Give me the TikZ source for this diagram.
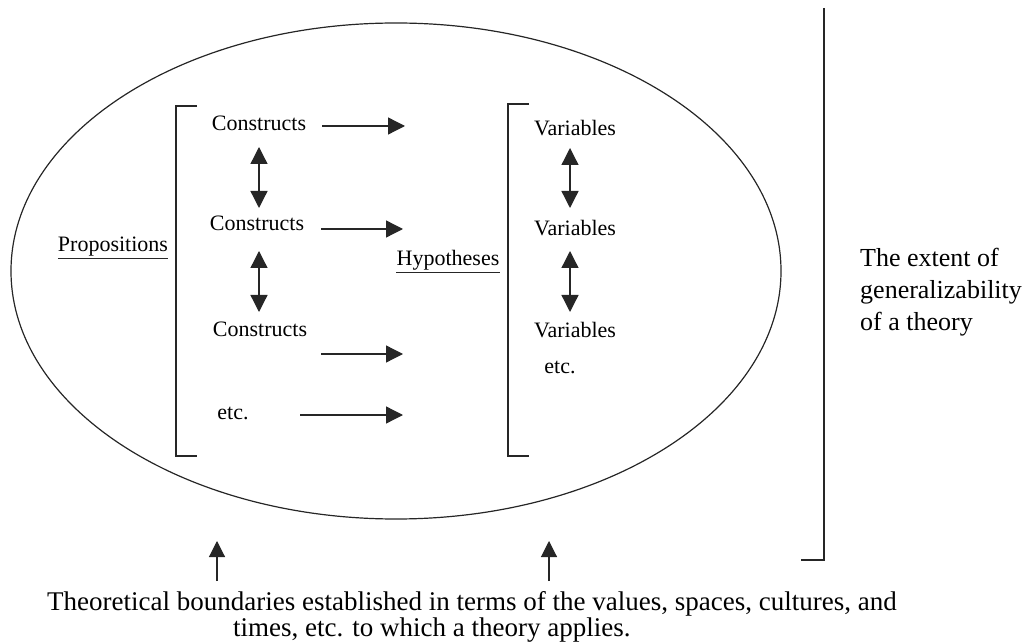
\documentclass[tikz,border=0pt]{standalone}
\usepackage{fontspec}
\setmainfont{Liberation Serif}
\usetikzlibrary{arrows.meta}
\begin{document}
\begin{tikzpicture}[x=1pt,y=-1pt,
  lbl/.style={inner sep=0pt, font=\fontsize{22}{26}\selectfont},
  big/.style={inner sep=0pt, font=\fontsize{26}{32}\selectfont, align=left},
  btxt/.style={inner sep=0pt, font=\fontsize{27}{27}\selectfont, anchor=base west},
  ln/.style={line width=1.2pt, draw=black!85},
  arr/.style={line width=1.3pt, draw=black!85, -{Triangle[length=17pt,width=17pt]}},
  dbl/.style={line width=1.3pt, draw=black!85, {Triangle[length=17pt,width=17pt]}-{Triangle[length=17pt,width=17pt]}},
  uarr/.style={line width=1.1pt, draw=black!85, -{Triangle[length=16pt,width=16pt]}}]
\useasboundingbox (0,0) rectangle (1031,644);
% ellipse
\draw[ln] (396,271) ellipse [x radius=385pt, y radius=248pt];
% brackets
\draw[ln] (197,106) -- (176,106) -- (176,456) -- (197,456);
\draw[ln] (529,104) -- (508,104) -- (508,456) -- (529,456);
% right bracket
\draw[ln] (824,8) -- (824,560) -- (801,560);
% left column
\node[lbl] (c1) at (259,123) {Constructs};
\node[lbl] (c2) at (257,223) {Constructs};
\node[lbl] (c3) at (260,329) {Constructs};
\node[lbl] (ce) at (233,413) {etc.};
% right column
\node[lbl] (v1) at (575,128) {Variables};
\node[lbl] (v2) at (575,228) {Variables};
\node[lbl] (v3) at (575,330) {Variables};
\node[lbl] (ve) at (560,367) {etc.};
% labels
\node[lbl] (prop) at (113,247) {Propositions};
\draw[ln] ([yshift=-2pt]prop.south west) -- ([yshift=-2pt]prop.south east);
\node[lbl] (hyp) at (448,260) {Hypotheses};
\draw[ln] ([yshift=-2pt]hyp.south west) -- ([yshift=-2pt]hyp.south east);
\node[big, anchor=west] (ext) at (860,292) {The extent of\\generalizability\\of a theory};
\node[btxt] (bt1) at (47,610) {Theoretical boundaries established in terms of the values, spaces, cultures, and};
\node[btxt] (bt2) at (233,636) {times, etc. to which a theory applies.};
% horizontal arrows
\coordinate (h1s) at (322,126); \coordinate (h1e) at (405,126);
\coordinate (h2s) at (321,229); \coordinate (h2e) at (403,229);
\coordinate (h3s) at (321,354); \coordinate (h3e) at (403,354);
\coordinate (h4s) at (300,415); \coordinate (h4e) at (403,415);
\draw[arr] (h1s) -- (h1e);
\draw[arr] (h2s) -- (h2e);
\draw[arr] (h3s) -- (h3e);
\draw[arr] (h4s) -- (h4e);
% vertical double arrows
\coordinate (d1a) at (259,147); \coordinate (d1b) at (259,208);
\coordinate (d2a) at (259,251); \coordinate (d2b) at (259,312);
\coordinate (d3a) at (570,148); \coordinate (d3b) at (570,208);
\coordinate (d4a) at (570,251); \coordinate (d4b) at (570,312);
\draw[dbl] (d1a) -- (d1b);
\draw[dbl] (d2a) -- (d2b);
\draw[dbl] (d3a) -- (d3b);
\draw[dbl] (d4a) -- (d4b);
% bottom arrows
\coordinate (b1s) at (217,581); \coordinate (b1e) at (217,541);
\coordinate (b2s) at (549,581); \coordinate (b2e) at (549,541);
\draw[uarr] (b1s) -- (b1e);
\draw[uarr] (b2s) -- (b2e);
\end{tikzpicture}
\end{document}
